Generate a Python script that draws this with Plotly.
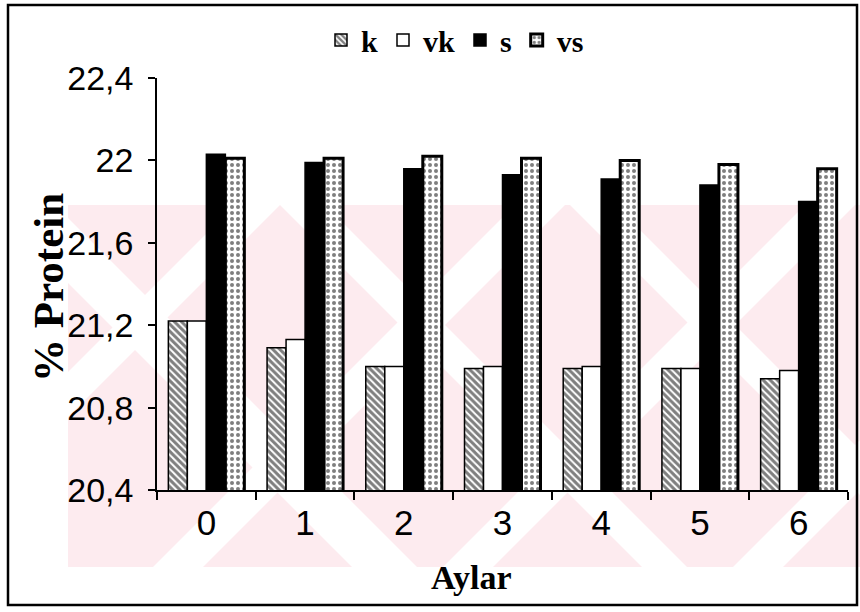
import plotly.graph_objects as go

# Months of storage and % protein for each group
months = ["0", "1", "2", "3", "4", "5", "6"]
k_vals = [21.22, 21.09, 21.00, 20.99, 20.99, 20.99, 20.94]
vk_vals = [21.22, 21.13, 21.00, 21.00, 21.00, 20.99, 20.98]
s_vals = [22.03, 21.99, 21.96, 21.93, 21.91, 21.88, 21.80]
vs_vals = [22.01, 22.01, 22.02, 22.01, 22.00, 21.98, 21.96]

y_ticks = [20.4, 20.8, 21.2, 21.6, 22.0, 22.4]
y_tick_text = ["20,4", "20,8", "21,2", "21,6", "22", "22,4"]

W, H = 860, 612
ML, MR, MT, MB = 157, 12, 78, 122
PW, PH = W - ML - MR, H - MT - MB


def px(x):
    return (x - ML) / PW


def py(y):
    return (H - MB - y) / PH


def clip(poly, x0, y0, x1, y1):
    """Clip a polygon (pixel coords) to an axis-aligned box."""
    def cut(pts, inside, inter):
        out = []
        for i in range(len(pts)):
            a, b = pts[i - 1], pts[i]
            ia, ib = inside(a), inside(b)
            if ib:
                if not ia:
                    out.append(inter(a, b))
                out.append(b)
            elif ia:
                out.append(inter(a, b))
        return out

    def ix(xc):
        return lambda a, b: (xc, a[1] + (b[1] - a[1]) * (xc - a[0]) / (b[0] - a[0]))

    def iy(yc):
        return lambda a, b: (a[0] + (b[0] - a[0]) * (yc - a[1]) / (b[1] - a[1]), yc)

    pts = poly
    pts = cut(pts, lambda p: p[0] >= x0, ix(x0)) if pts else pts
    pts = cut(pts, lambda p: p[0] <= x1, ix(x1)) if pts else pts
    pts = cut(pts, lambda p: p[1] >= y0, iy(y0)) if pts else pts
    pts = cut(pts, lambda p: p[1] <= y1, iy(y1)) if pts else pts
    return pts


def path(pts):
    return "M" + " L".join(f"{px(x):.5f},{py(y):.5f}" for x, y in pts) + " Z"


# Faint pink background stamp with diagonal white bands
WM = (68, 205, 860, 567)
PINK = "#fdebef"
shapes = [dict(type="rect", xref="paper", yref="paper", layer="below",
               x0=px(WM[0]), x1=px(WM[2]), y0=py(WM[3]), y1=py(WM[1]),
               fillcolor=PINK, line=dict(width=0))]
slash_bands = [(440, 485), (720, 770), (1010, 1060), (1300, 1350)]
back_bands = [(-215, -150), (75, 120), (365, 410)]
for c0, c1 in slash_bands:
    poly = [(c0 + 2000, -2000), (c1 + 2000, -2000), (c1 - 2000, 2000), (c0 - 2000, 2000)]
    pts = clip(poly, *WM)
    if len(pts) > 2:
        shapes.append(dict(type="path", xref="paper", yref="paper", layer="below",
                           path=path(pts), fillcolor="white", line=dict(width=0)))
for c0, c1 in back_bands:
    poly = [(c0 - 2000, -2000), (c1 - 2000, -2000), (c1 + 2000, 2000), (c0 + 2000, 2000)]
    pts = clip(poly, *WM)
    if len(pts) > 2:
        shapes.append(dict(type="path", xref="paper", yref="paper", layer="below",
                           path=path(pts), fillcolor="white", line=dict(width=0)))

# Outer frame
shapes.append(dict(type="rect", xref="paper", yref="paper", layer="above",
                   x0=px(8), x1=px(857), y0=py(605), y1=py(5),
                   line=dict(color="black", width=2.5), fillcolor="rgba(0,0,0,0)"))

sans = "Liberation Sans, Arial, sans-serif"
serif = "Liberation Serif, Times New Roman, serif"

outline = dict(color="black", width=1.5)
fig = go.Figure()
fig.add_trace(go.Bar(
    name="k", x=months, y=k_vals,
    marker=dict(color="white", line=outline,
                pattern=dict(shape="\\", fgcolor="black", bgcolor="white",
                             size=5, solidity=0.6)),
))
fig.add_trace(go.Bar(
    name="vk", x=months, y=vk_vals,
    marker=dict(color="white", line=outline),
))
fig.add_trace(go.Bar(
    name="s", x=months, y=s_vals,
    marker=dict(color="black", line=outline),
))
fig.add_trace(go.Bar(
    name="vs", x=months, y=vs_vals,
    marker=dict(color="white", line=dict(color="black", width=3),
                pattern=dict(shape=".", fgcolor="black", bgcolor="white",
                             size=6, solidity=0.35)),
))

annotations = [
    dict(text="Aylar", xref="paper", yref="paper", x=px(471), y=py(577),
         xanchor="center", yanchor="middle", showarrow=False,
         font=dict(family=serif, size=34, color="black", weight="bold")),
    dict(text="% Protein", xref="paper", yref="paper", x=px(48), y=py(288),
         xanchor="center", yanchor="middle", showarrow=False, textangle=-90,
         font=dict(family=serif, size=43, color="black", weight="bold")),
]

fig.update_layout(
    width=W, height=H,
    margin=dict(l=ML, r=MR, t=MT, b=MB, pad=0),
    paper_bgcolor="white",
    plot_bgcolor="rgba(0,0,0,0)",
    barmode="group",
    bargap=0.23,
    bargroupgap=0,
    shapes=shapes,
    annotations=annotations,
    showlegend=True,
    legend=dict(orientation="h", x=px(455), xanchor="center",
                y=py(40), yanchor="middle",
                font=dict(family=serif, size=30, color="black", weight="bold"),
                itemwidth=30, tracegroupgap=0,
                bgcolor="rgba(0,0,0,0)"),
    xaxis=dict(
        type="category",
        showline=True, linecolor="black", linewidth=1.5,
        ticks="outside", tickson="boundaries", ticklen=8, tickwidth=1.5,
        tickcolor="black",
        tickfont=dict(family=sans, size=35, color="black"),
        ticklabelstandoff=1,
        showgrid=False, zeroline=False,
    ),
    yaxis=dict(
        range=[20.4, 22.4],
        tickvals=y_ticks, ticktext=y_tick_text,
        showline=True, linecolor="black", linewidth=1.5,
        ticks="outside", ticklen=7, tickwidth=1.5, tickcolor="black",
        tickfont=dict(family=sans, size=34, color="black"),
        ticklabelstandoff=8,
        showgrid=False, zeroline=False,
    ),
)

fig.write_html("out.html")
